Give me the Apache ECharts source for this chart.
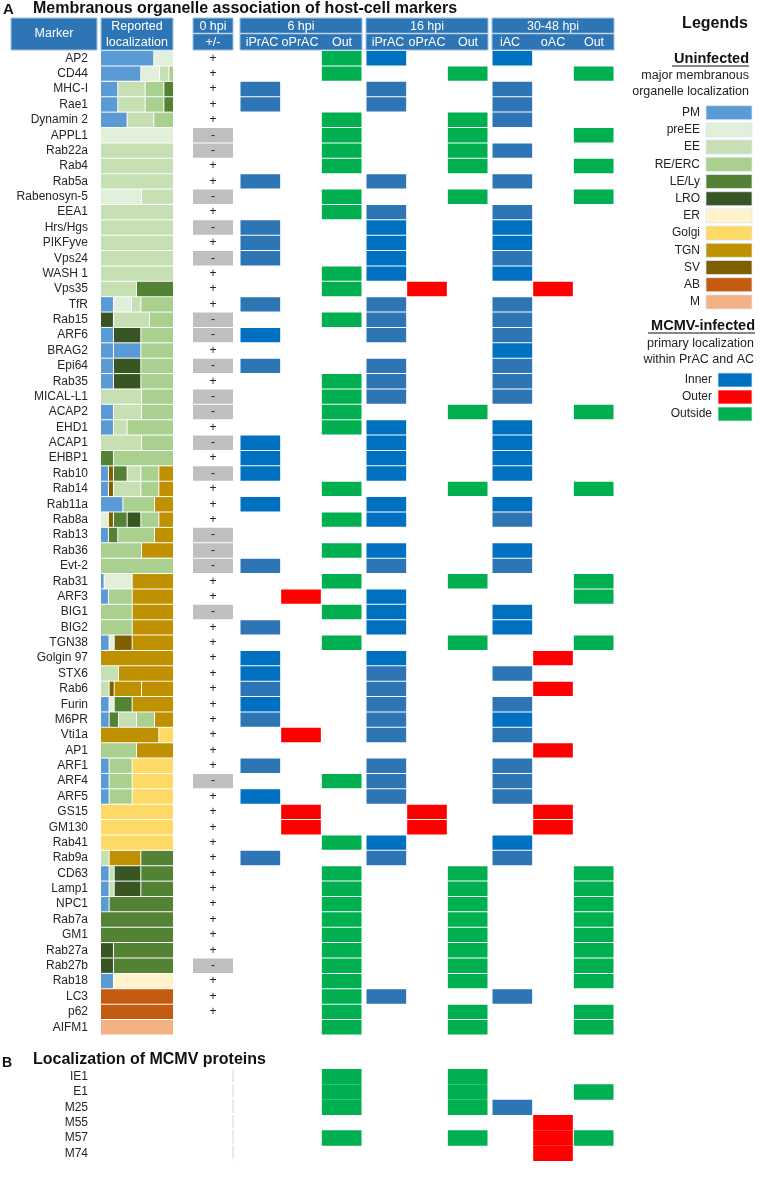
<!DOCTYPE html>
<html><head><meta charset="utf-8">
<script src="https://cdn.jsdelivr.net/npm/echarts/dist/echarts.min.js"></script>
<style>html,body{margin:0;padding:0;background:#fff}#main{width:770px;height:1178px}</style>
</head><body><div id="main"></div>
<script>
// ---------- DATA ----------
const markers = ['AP2','CD44','MHC-I','Rae1','Dynamin 2','APPL1','Rab22a','Rab4','Rab5a','Rabenosyn-5',
 'EEA1','Hrs/Hgs','PIKFyve','Vps24','WASH 1','Vps35','TfR','Rab15','ARF6','BRAG2',
 'Epi64','Rab35','MICAL-L1','ACAP2','EHD1','ACAP1','EHBP1','Rab10','Rab14','Rab11a',
 'Rab8a','Rab13','Rab36','Evt-2','Rab31','ARF3','BIG1','BIG2','TGN38','Golgin 97',
 'STX6','Rab6','Furin','M6PR','Vti1a','AP1','ARF1','ARF4','ARF5','GS15',
 'GM130','Rab41','Rab9a','CD63','Lamp1','NPC1','Rab7a','GM1','Rab27a','Rab27b',
 'Rab18','LC3','p62','AIFM1'];
const zeroHpi = ['+','+','+','+','+','-','-','+','+','-',
 '+','-','+','-','+','+','+','-','-','+',
 '-','+','-','-','+','-','+','-','+','+',
 '+','-','-','-','+','+','-','+','+','+',
 '+','+','+','+','+','+','+','-','+','+',
 '+','+','+','+','+','+','+','+','+','-',
 '+','+','+',''];
const orgTypes = ['PM','preEE','EE','RE/ERC','LE/Ly','LRO','ER','Golgi','TGN','SV','AB','M'];
const orgColors = ['#5B9BD5','#E2EFDA','#C6E0B4','#A9D08E','#548235','#375623','#FFF2CC','#FFD966','#BF9000','#7F6000','#C55A11','#F4B183'];
// reported localization: [type, share] segments, left to right
const reportedLoc = [
 [['PM',74],['preEE',26]],
 [['PM',56],['preEE',26],['EE',13],['RE/ERC',5]],
 [['PM',24],['EE',38],['RE/ERC',26],['LE/Ly',12]],
 [['PM',24],['EE',38],['RE/ERC',26],['LE/Ly',12]],
 [['PM',37],['EE',37],['RE/ERC',26]],
 [['preEE',100]],
 [['EE',100]],
 [['EE',100]],
 [['EE',100]],
 [['preEE',57],['EE',43]],
 [['EE',100]],
 [['EE',100]],
 [['EE',100]],
 [['EE',100]],
 [['EE',100]],
 [['EE',50],['LE/Ly',50]],
 [['PM',18],['preEE',25],['EE',13],['RE/ERC',44]],
 [['LRO',18],['EE',50],['RE/ERC',32]],
 [['PM',18],['LRO',38],['RE/ERC',44]],
 [['PM',18],['PM',38],['RE/ERC',44]],
 [['PM',18],['LRO',38],['RE/ERC',44]],
 [['PM',18],['LRO',38],['RE/ERC',44]],
 [['EE',57],['RE/ERC',43]],
 [['PM',18],['EE',39],['RE/ERC',43]],
 [['PM',18],['EE',19],['RE/ERC',63]],
 [['EE',57],['RE/ERC',43]],
 [['LE/Ly',18],['RE/ERC',82]],
 [['PM',11],['SV',7],['LE/Ly',19],['EE',19],['RE/ERC',25],['TGN',19]],
 [['PM',11],['SV',7],['EE',38],['RE/ERC',25],['TGN',19]],
 [['PM',31],['RE/ERC',44],['TGN',25]],
 [['preEE',11],['SV',7],['LE/Ly',19],['LRO',19],['RE/ERC',25],['TGN',19]],
 [['PM',11],['LE/Ly',13],['RE/ERC',51],['TGN',25]],
 [['RE/ERC',57],['TGN',43]],
 [['RE/ERC',100]],
 [['PM',5],['preEE',39],['TGN',56]],
 [['PM',11],['RE/ERC',33],['TGN',56]],
 [['RE/ERC',44],['TGN',56]],
 [['RE/ERC',44],['TGN',56]],
 [['PM',12],['preEE',7],['SV',25],['TGN',56]],
 [['TGN',100]],
 [['EE',25],['TGN',75]],
 [['EE',12],['SV',7],['TGN',38],['TGN',43]],
 [['PM',12],['preEE',7],['LE/Ly',25],['TGN',56]],
 [['PM',12],['LE/Ly',13],['EE',25],['RE/ERC',25],['TGN',25]],
 [['TGN',81],['Golgi',19]],
 [['RE/ERC',50],['TGN',50]],
 [['PM',12],['RE/ERC',32],['Golgi',56]],
 [['PM',12],['RE/ERC',32],['Golgi',56]],
 [['PM',12],['RE/ERC',32],['Golgi',56]],
 [['Golgi',100]],
 [['Golgi',100]],
 [['Golgi',100]],
 [['EE',12],['TGN',44],['LE/Ly',44]],
 [['PM',12],['EE',7],['LRO',37],['LE/Ly',44]],
 [['PM',12],['EE',7],['LRO',37],['LE/Ly',44]],
 [['PM',12],['LE/Ly',88]],
 [['LE/Ly',100]],
 [['LE/Ly',100]],
 [['LRO',18],['LE/Ly',82]],
 [['LRO',18],['LE/Ly',82]],
 [['PM',18],['ER',82]],
 [['AB',100]],
 [['AB',100]],
 [['M',100]]
];
// MCMV-infected localization codes: B = inner (bright), S = inner (steel), R = outer, G = outside
const hpi6 = ['G','G','S','S','G','G','G','G','S','G',
 'G','S','S','S','G','G','S','G','B','',
 'S','G','G','G','G','B','B','B','G','B',
 'G','','G','S','G','R','G','S','G','B',
 'B','S','B','S','R','','S','G','B','R',
 'R','G','S','G','G','G','G','G','G','G',
 'G','G','G','G'];
const hpi16 = ['B','G','S','S','G','G','G','G','S','G',
 'S','B','B','B','B','R','S','S','S','',
 'S','S','S','G','B','B','B','B','G','B',
 'B','','B','S','G','B','B','B','G','B',
 'S','S','S','S','S','','S','S','S','R',
 'R','B','S','G','G','G','G','G','G','G',
 'G','S','G','G'];
const hpi30 = ['B','G','S','S','S','G','S','G','S','G',
 'S','B','B','S','B','R','S','S','S','B',
 'S','S','S','G','B','B','B','B','G','B',
 'S','','B','S','G','G','B','B','G','R',
 'S','R','S','B','S','R','S','S','S','R',
 'R','B','S','G','G','G','G','G','G','G',
 'G','S','G','G'];
const proteins = ['IE1','E1','M25','M55','M57','M74'];
const protHpi6 = ['G','G','G','','G',''];
const protHpi16 = ['G','G','G','','G',''];
const protHpi30 = ['','G','S','R','RG','R'];
const stateKeys = ['B','S','R','G'];
const stateColors = ['#0070C0','#2E75B6','#FF0000','#00B050'];
const stateColumn = {B:0,S:0,R:1,G:2};
const groupTitles = ['6 hpi','16 hpi','30-48 hpi'];
const groupSubs = [['iPrAC','oPrAC','Out'],['iPrAC','oPrAC','Out'],['iAC','oAC','Out']];

// ---------- BUILD ----------
const FONT = '"Liberation Sans", Arial, sans-serif';
const HDR = '#2E75B6';
const locData = [];
reportedLoc.forEach((segs,row)=>{
  const tot = segs.reduce((s,x)=>s+x[1],0); let cum=0;
  segs.forEach(([t,v])=>{ const a=cum/tot*100; cum+=v; locData.push([a, cum/tot*100, row, orgTypes.indexOf(t)]); });
});
const zeroData = zeroHpi.map((s,row)=>[0,row,s==='+'?1:(s==='-'?-1:0)]);
function buildStatus(arr){ const out=[]; arr.forEach((codes,row)=>{ for(const c of codes) out.push([stateColumn[c],row,stateKeys.indexOf(c)]); }); return out; }

const A_TOP=50.6, A_H=984.3, B_TOP=1069, B_H=92;
const groupLeft=[240,366,492], GW=122;

const grids=[
 {left:101,width:72,top:A_TOP,height:A_H},
 {left:193,width:40,top:A_TOP,height:A_H},
 {left:groupLeft[0],width:GW,top:A_TOP,height:A_H},
 {left:groupLeft[1],width:GW,top:A_TOP,height:A_H},
 {left:groupLeft[2],width:GW,top:A_TOP,height:A_H},
 {left:groupLeft[0],width:GW,top:B_TOP,height:B_H},
 {left:groupLeft[1],width:GW,top:B_TOP,height:B_H},
 {left:groupLeft[2],width:GW,top:B_TOP,height:B_H}
].map(g=>Object.assign({containLabel:false,outerBoundsMode:'none'},g));

const xAxes=[{gridIndex:0,type:'value',min:0,max:100,show:false},
 {gridIndex:1,type:'category',data:['0'],show:false}];
for(let i=2;i<8;i++) xAxes.push({gridIndex:i,type:'category',data:['in','out','outside'],show:false});
const hiddenY=(gi,data)=>({gridIndex:gi,type:'category',data,inverse:true,show:false});
const yAxes=[
 {gridIndex:0,type:'category',data:markers,inverse:true,axisLine:{show:false},axisTick:{show:false},
  axisLabel:{interval:0,margin:13,fontSize:12,color:'#262626',fontFamily:FONT}},
 hiddenY(1,markers),hiddenY(2,markers),hiddenY(3,markers),hiddenY(4,markers),
 {gridIndex:5,type:'category',data:proteins,inverse:true,axisLine:{show:false},axisTick:{show:false},
  axisLabel:{interval:0,margin:152,fontSize:12,color:'#262626',fontFamily:FONT}},
 hiddenY(6,proteins),hiddenY(7,proteins)
];

function statusRender(vInset){
  return function(params,api){
    const c=api.coord([api.value(0),api.value(1)]); const s=api.size([1,1]);
    const w=s[0]-1, h=s[1]-vInset;
    return {type:'rect',shape:{x:c[0]-w/2,y:c[1]-h/2,width:w,height:h},style:{fill:stateColors[api.value(2)]}};
  };
}
const series=[
 {type:'custom',xAxisIndex:0,yAxisIndex:0,data:locData,encode:{x:[0,1],y:2},silent:true,
  renderItem(params,api){
    const row=api.value(2); const a=api.coord([api.value(0),row]); const b=api.coord([api.value(1),row]);
    const h=api.size([0,1])[1]-1; const gap=api.value(1)<99.9?1:0;
    return {type:'rect',shape:{x:a[0],y:a[1]-h/2,width:b[0]-a[0]-gap,height:h},style:{fill:orgColors[api.value(3)]}};
  }},
 {type:'custom',xAxisIndex:1,yAxisIndex:1,data:zeroData,encode:{x:0,y:1},silent:true,
  renderItem(params,api){
    const v=api.value(2); if(!v) return null;
    const c=api.coord([0,api.value(1)]); const s=api.size([1,1]);
    const children=[];
    if(v<0) children.push({type:'rect',shape:{x:c[0]-s[0]/2,y:c[1]-s[1]/2+0.5,width:s[0],height:s[1]-1},style:{fill:'#BFBFBF'}});
    children.push({type:'text',style:{text:v>0?'+':'-',x:c[0],y:c[1],align:'center',verticalAlign:'middle',fontSize:12,fontFamily:FONT,fill:'#222'}});
    return {type:'group',children};
  }}
];
[hpi6,hpi16,hpi30].forEach((arr,i)=>series.push({type:'custom',xAxisIndex:2+i,yAxisIndex:2+i,data:buildStatus(arr),encode:{x:0,y:1},silent:true,renderItem:statusRender(1)}));
[protHpi6,protHpi16,protHpi30].forEach((arr,i)=>series.push({type:'custom',xAxisIndex:5+i,yAxisIndex:5+i,data:buildStatus(arr),encode:{x:0,y:1},silent:true,renderItem:statusRender(0)}));

// ---------- GRAPHIC (titles, headers, legends) ----------
const g=[];
const txt=(text,x,y,o={})=>g.push({type:'text',silent:true,style:Object.assign({text,x,y,fontFamily:FONT,fontSize:12,fill:'#222',align:'left',verticalAlign:'middle'},o)});
const rect=(x,y,w,h,fill,o={})=>g.push({type:'rect',silent:true,shape:{x,y,width:w,height:h},style:Object.assign({fill},o)});
const line=(x1,y1,x2,y2,stroke,lw,o={})=>g.push({type:'line',silent:true,shape:{x1,y1,x2,y2},style:Object.assign({stroke,lineWidth:lw},o)});

txt('A',3,10,{fontSize:15,fontWeight:'bold',fill:'#111'});
txt('Membranous organelle association of host-cell markers',33,8.5,{fontSize:16,fontWeight:'bold',fill:'#111'});
txt('B',2,1063,{fontSize:14,fontWeight:'bold',fill:'#111'});
txt('Localization of MCMV proteins',33,1059.5,{fontSize:16,fontWeight:'bold',fill:'#111'});

const W={fill:'#fff',fontSize:12.5,align:'center'};
rect(11,18,86,32,HDR,{stroke:'#9DC3E6',lineWidth:1});
txt('Marker',54,33.5,W);
rect(101,18,72,32,HDR,{stroke:'#9DC3E6',lineWidth:1});
txt('Reported',137,26.5,W); txt('localization',137,42.5,W);
rect(193,18,40,32,HDR,{stroke:'#9DC3E6',lineWidth:1});
line(193,33.5,233,33.5,'#BDD7EE',1.5);
txt('0 hpi',213,26.5,W); txt('+/-',213,42.5,W);
const subOff=[[22,60,102],[22,61,102],[18,61,102]];
groupLeft.forEach((x,i)=>{
  rect(x,18,GW,32,HDR,{stroke:'#9DC3E6',lineWidth:1});
  line(x,33.5,x+GW,33.5,'#BDD7EE',1.5);
  txt(groupTitles[i],x+GW/2,26.5,W);
  groupSubs[i].forEach((s,j)=>txt(s,x+subOff[i][j],42.5,W));
});
// faint column line in part B
line(233,1069,233,1161,'#E4ECF6',2,{lineDash:[13.3,2]});

// Legends
txt('Legends',715,24,{fontSize:16,fontWeight:'bold',align:'center',fill:'#111'});
txt('Uninfected',749,59,{fontSize:14.5,fontWeight:'bold',align:'right',fill:'#111'});
line(672,66,749,66,'#111',1.2);
txt('major membranous',749,76,{fontSize:12.5,align:'right'});
txt('organelle localization',749,92,{fontSize:12.5,align:'right'});
orgTypes.forEach((t,i)=>{
  const cy=112.7+i*17.2;
  rect(706,cy-7,46,14,orgColors[i],{stroke:'#DDE6EF',lineWidth:0.8});
  txt(t,700,cy,{align:'right'});
});
txt('MCMV-infected',755,326,{fontSize:14.5,fontWeight:'bold',align:'right',fill:'#111'});
line(648,333,755,333,'#111',1.2);
txt('primary localization',754,344,{fontSize:12.5,align:'right'});
txt('within PrAC and AC',754,359.5,{fontSize:12.5,align:'right'});
['Inner','Outer','Outside'].forEach((t,i)=>{
  const cy=380+i*17;
  rect(718,cy-7,34,14,stateColors[[0,2,3][i]],{stroke:'#DDE6EF',lineWidth:0.8});
  txt(t,712,cy,{align:'right'});
});

const chart=echarts.init(document.getElementById('main'),null,{renderer:'canvas'});
chart.setOption({animation:false,backgroundColor:'#fff',grid:grids,xAxis:xAxes,yAxis:yAxes,series,graphic:{elements:g}});
</script></body></html>
